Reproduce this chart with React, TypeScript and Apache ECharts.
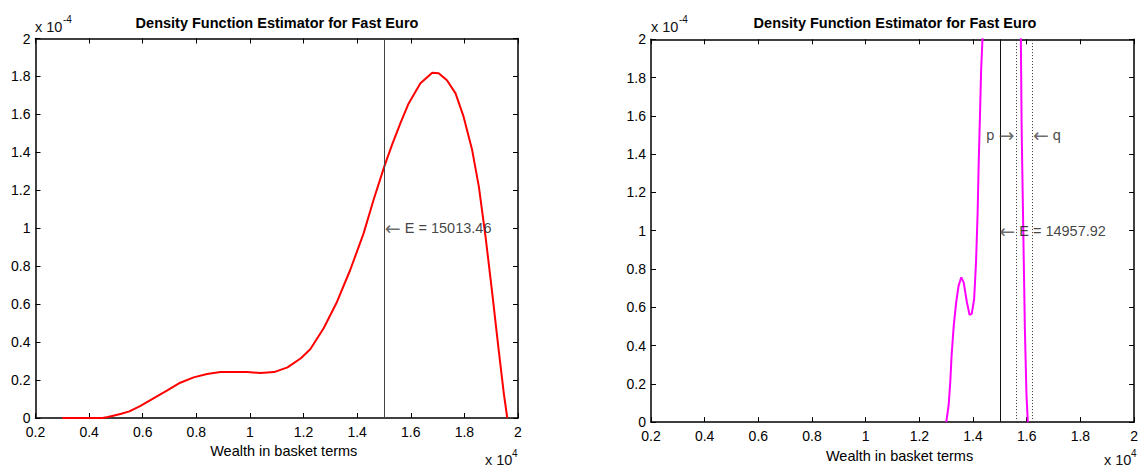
import React, { useEffect, useRef } from "react";
import * as echarts from "echarts";

// Chart texts
const TITLE = "Density Function Estimator for Fast Euro";
const X_LABEL = "Wealth in basket terms";

// Wealth values in units of 10^4, densities in units of 10^-4
const leftWealth = [
  0.3, 0.35, 0.4, 0.45, 0.47, 0.49, 0.52, 0.55, 0.59, 0.64, 0.69, 0.74, 0.79, 0.84, 0.89, 0.94,
  0.99, 1.04, 1.09, 1.14, 1.19, 1.225, 1.275, 1.325, 1.374, 1.424, 1.461, 1.501, 1.53, 1.561,
  1.592, 1.636, 1.68, 1.704, 1.735, 1.767, 1.797, 1.829, 1.854, 1.879, 1.904, 1.928, 1.947, 1.96,
];
const leftDensity = [
  0, 0, 0, 0, 0.005, 0.012, 0.022, 0.035, 0.063, 0.104, 0.144, 0.186, 0.214, 0.232, 0.242, 0.242,
  0.242, 0.237, 0.242, 0.267, 0.315, 0.362, 0.473, 0.613, 0.78, 0.973, 1.149, 1.325, 1.439, 1.553,
  1.658, 1.764, 1.82, 1.817, 1.78, 1.711, 1.588, 1.412, 1.219, 0.955, 0.657, 0.358, 0.13, 0,
];
const leftMean = 1.501346;
const leftMeanText = "E = 15013.46";

const rightWealth = [
  1.3, 1.309, 1.315, 1.32, 1.328, 1.337, 1.346, 1.356, 1.365, 1.377, 1.387, 1.395, 1.404, 1.411,
  1.417, 1.421, 1.426, 1.43, 1.435, 1.44, 1.46, 1.5, 1.54, 1.56, 1.575, 1.578, 1.581, 1.587, 1.593,
  1.599, 1.604,
];
const rightDensity = [
  0, 0.088, 0.209, 0.348, 0.504, 0.626, 0.712, 0.756, 0.73, 0.626, 0.56, 0.565, 0.643, 0.834,
  1.095, 1.355, 1.616, 1.84, 2.0, 2.3, 3.6, 4.6, 4.0, 3.2, 2.3, 2.0, 1.529, 1.008, 0.487, 0.14, 0,
];
const rightMean = 1.495792;
const rightMeanText = "E = 14957.92";
const rightP = 1.5555;
const rightQ = 1.621;
const pText = "p";
const qText = "q";
const pqLevel = 1.5;

const X_MIN = 0.2;
const X_MAX = 2;
const X_STEP = 0.2;
const Y_MIN = 0;
const Y_MAX = 2;
const Y_STEP = 0.2;

const FONT = '"Liberation Sans", Arial, Helvetica, sans-serif';
const ARROW_FONT = '"DejaVu Sans", sans-serif';

function zip(xs: number[], ys: number[]) {
  return xs.map((x, i) => [x, ys[i]]);
}

function axesFor(gridIndex: number) {
  const lineStyle = { color: "#000", width: 1.5 };
  const tick = { show: true, inside: true, length: 5, lineStyle: { color: "#000", width: 1 } };
  const xBottom = {
    type: "value",
    gridIndex,
    position: "bottom",
    min: X_MIN,
    max: X_MAX,
    interval: X_STEP,
    axisLine: { show: true, onZero: false, lineStyle },
    axisTick: tick,
    splitLine: { show: false },
    axisLabel: {
      margin: 7,
      fontSize: 14,
      lineHeight: 14,
      color: "#000",
      fontFamily: FONT,
      formatter: (v: number) => String(+v.toFixed(1)),
    },
    name: X_LABEL,
    nameLocation: "middle",
    nameGap: 25,
    nameTextStyle: { fontSize: 14.5, color: "#000", fontFamily: FONT, padding: [0, 0, 0, 14] },
  };
  const xTop = {
    type: "value",
    gridIndex,
    position: "top",
    min: X_MIN,
    max: X_MAX,
    interval: X_STEP,
    axisLine: { show: true, onZero: false, lineStyle },
    axisTick: tick,
    splitLine: { show: false },
    axisLabel: { show: false },
  };
  const yLeft = {
    type: "value",
    gridIndex,
    position: "left",
    min: Y_MIN,
    max: Y_MAX,
    interval: Y_STEP,
    axisLine: { show: true, onZero: false, lineStyle },
    axisTick: tick,
    splitLine: { show: false },
    axisLabel: {
      margin: 5,
      fontSize: 14,
      lineHeight: 14,
      color: "#000",
      fontFamily: FONT,
      formatter: (v: number) => String(+v.toFixed(1)),
    },
  };
  const yRight = {
    type: "value",
    gridIndex,
    position: "right",
    min: Y_MIN,
    max: Y_MAX,
    interval: Y_STEP,
    axisLine: { show: true, onZero: false, lineStyle },
    axisTick: tick,
    splitLine: { show: false },
    axisLabel: { show: false },
  };
  return { x: [xBottom, xTop], y: [yLeft, yRight] };
}

const richStyles = {
  arr: { fontFamily: ARROW_FONT, fontSize: 19, color: "#444", verticalAlign: "middle", lineHeight: 16 },
  t: { fontFamily: FONT, fontSize: 14.5, color: "#111", verticalAlign: "middle", lineHeight: 16 },
};

function annotation(
  xAxisIndex: number,
  yAxisIndex: number,
  point: number[],
  text: string,
  position: string
) {
  return {
    type: "scatter",
    xAxisIndex,
    yAxisIndex,
    silent: true,
    symbol: "circle",
    symbolSize: 1,
    itemStyle: { color: "rgba(0,0,0,0)" },
    label: {
      show: true,
      position,
      distance: 0,
      formatter: text,
      fontSize: 14.5,
      color: "#111",
      fontFamily: FONT,
      rich: richStyles,
    },
    data: [point],
    z: 5,
  };
}

function exponentTexts(x: number, y: number, base: string, exp: string, expDx: number, expDy: number) {
  return [
    {
      type: "text",
      x,
      y,
      style: { text: base, fontSize: 14.5, fontFamily: FONT, fill: "#111", align: "left", verticalAlign: "middle" },
    },
    {
      type: "text",
      x: x + expDx,
      y: y + expDy,
      style: { text: exp, fontSize: 10, fontFamily: FONT, fill: "#111", align: "left", verticalAlign: "middle" },
    },
  ];
}

export default function App() {
  const ref = useRef<HTMLDivElement>(null);

  useEffect(() => {
    if (!ref.current) return;
    const chart = echarts.init(ref.current, undefined, { renderer: "svg" });

    const a0 = axesFor(0);
    const a1 = axesFor(1);

    const option: any = {
      animation: false,
      backgroundColor: "#fff",
      grid: [
        { left: 35.5, top: 38.5, width: 482.5, height: 379.5, containLabel: false },
        { left: 651, top: 39.3, width: 487.5, height: 384, containLabel: false },
      ],
      xAxis: [...a0.x, ...a1.x],
      yAxis: [...a0.y, ...a1.y],
      graphic: [
        {
          type: "text",
          x: 277,
          y: 23,
          style: { text: TITLE, fontSize: 14.5, fontWeight: "bold", fontFamily: FONT, fill: "#000", align: "center", verticalAlign: "middle" },
        },
        {
          type: "text",
          x: 895,
          y: 23,
          style: { text: TITLE, fontSize: 14.5, fontWeight: "bold", fontFamily: FONT, fill: "#000", align: "center", verticalAlign: "middle" },
        },
        ...exponentTexts(35, 27, "x 10", "-4", 28, -8),
        ...exponentTexts(651, 27, "x 10", "-4", 28, -8),
        ...exponentTexts(485, 459.5, "x 10", "4", 27, -6.5),
        ...exponentTexts(1104, 460, "x 10", "4", 27, -6.5),
      ],
      series: [
        {
          type: "line",
          xAxisIndex: 0,
          yAxisIndex: 0,
          data: zip(leftWealth, leftDensity),
          showSymbol: false,
          symbol: "none",
          lineStyle: { color: "#ff0000", width: 2 },
          itemStyle: { color: "#ff0000" },
          clip: true,
          z: 3,
          markLine: {
            silent: true,
            symbol: ["none", "none"],
            label: { show: false },
            lineStyle: { color: "#444", width: 1, type: "solid" },
            data: [{ xAxis: leftMean }],
          },
        },
        annotation(0, 0, [leftMean, 1.0], "{arr|←} {t|" + leftMeanText + "}", "right"),
        {
          type: "line",
          xAxisIndex: 2,
          yAxisIndex: 2,
          data: zip(rightWealth, rightDensity),
          showSymbol: false,
          symbol: "none",
          lineStyle: { color: "#ff00ff", width: 2 },
          itemStyle: { color: "#ff00ff" },
          clip: true,
          z: 3,
          markLine: {
            silent: true,
            symbol: ["none", "none"],
            label: { show: false },
            data: [
              { xAxis: rightMean, lineStyle: { color: "#111", width: 1, type: "solid" } },
              { xAxis: rightP, lineStyle: { color: "#333", width: 1, type: [1, 2] } },
              { xAxis: rightQ, lineStyle: { color: "#333", width: 1, type: [1, 2] } },
            ],
          },
        },
        annotation(2, 2, [rightMean, 1.0], "{arr|←} {t|" + rightMeanText + "}", "right"),
        annotation(2, 2, [rightP, pqLevel], "{t|" + pText + "} {arr|→}", "left"),
        annotation(2, 2, [rightQ, pqLevel], "{arr|←} {t|" + qText + "}", "right"),
      ],
    };

    chart.setOption(option);
    return () => {
      chart.dispose();
    };
  }, []);

  return (
    <div
      ref={ref}
      style={{ position: "absolute", left: 0, top: 0, width: 1141, height: 468, background: "#fff" }}
    />
  );
}
